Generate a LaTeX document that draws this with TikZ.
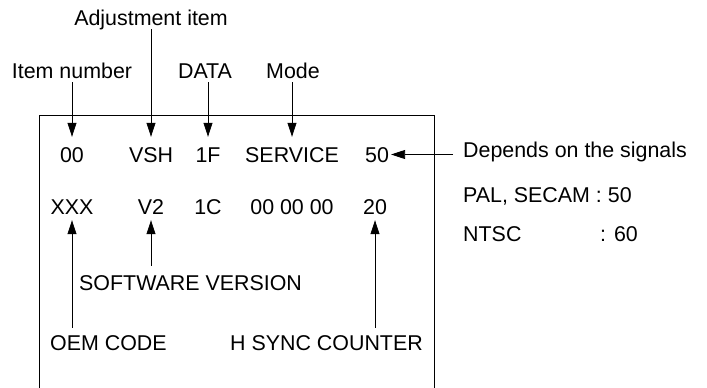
\documentclass[tikz,border=0pt]{standalone}
\usepackage{fontspec}
\setmainfont{Liberation Sans}
\usetikzlibrary{arrows.meta}
\begin{document}
\begin{tikzpicture}[x=1pt,y=-1pt,
  txt/.style={inner sep=0pt,text height=15pt,text depth=0pt,font=\fontsize{21.4}{25}\selectfont},
  arr/.style={line width=0.8pt,-{Triangle[length=14pt,width=9pt]}},
  boxline/.style={line width=0.9pt}]
\useasboundingbox (0,0) rectangle (707,388);
% frame (open at the bottom)
\draw[boxline] (39,388) -- (39,115) -- (434,115) -- (434,388);
% top labels
\node[txt,anchor=base] (ladj) at (151,25) {Adjustment item};
\node[txt,anchor=base] (lnum) at (72,78) {Item number};
\node[txt,anchor=base] (ldata) at (205,78) {DATA};
\node[txt,anchor=base] (lmode) at (293,78) {Mode};
% row 1
\node[txt,anchor=base] (v00) at (72,162) {00};
\node[txt,anchor=base] (vvsh) at (151,162) {VSH};
\node[txt,anchor=base] (v1f) at (208,162) {1F};
\node[txt,anchor=base] (vserv) at (292,162) {SERVICE};
\node[txt,anchor=base] (v50) at (377,162) {50};
% row 2
\node[txt,anchor=base] (vxxx) at (72,214) {XXX};
\node[txt,anchor=base] (vv2) at (151,214) {V2};
\node[txt,anchor=base] (v1c) at (208,214) {1C};
\node[txt,anchor=base] (vzero) at (292,214) {00 00 00};
\node[txt,anchor=base] (v20) at (375,214) {20};
% bottom labels
\node[txt,anchor=base west] (lsoft) at (79,290) {SOFTWARE VERSION};
\node[txt,anchor=base west] (loem) at (50,350) {OEM CODE};
\node[txt,anchor=base east] (lhsync) at (423,350) {H SYNC COUNTER};
% right notes
\node[txt,anchor=base west] (ldep) at (463,157) {Depends on the signals};
\node[txt,anchor=base west] (lpal) at (463,202) {PAL, SECAM : 50};
\node[txt,anchor=base west] (lntsc) at (463,241) {NTSC};
\node[txt,anchor=base west] (lsixty) at (600,241) {: 60};
% arrows down
\draw[arr,shorten <=4pt,shorten >=10pt] (lnum.south -| v00.north) -- (v00.north);
\draw[arr,shorten <=4pt,shorten >=10pt] (ladj.south -| vvsh.north) -- (vvsh.north);
\draw[arr,shorten <=4pt,shorten >=10pt] (ldata.south -| v1f.north) -- (v1f.north);
\draw[arr,shorten <=4pt,shorten >=10pt] (lmode.south -| vserv.north) -- (vserv.north);
% arrow left to 50
\draw[arr,shorten <=10pt,shorten >=2pt] (ldep.west |- v50.east) -- (v50.east);
% arrows up
\draw[arr,shorten <=7pt,shorten >=6pt] (loem.north -| vxxx.south) -- (vxxx.south);
\draw[arr,shorten <=9pt,shorten >=6pt] (lsoft.north -| vv2.south) -- (vv2.south);
\draw[arr,shorten <=7pt,shorten >=6pt] (lhsync.north -| v20.south) -- (v20.south);
\end{tikzpicture}
\end{document}
